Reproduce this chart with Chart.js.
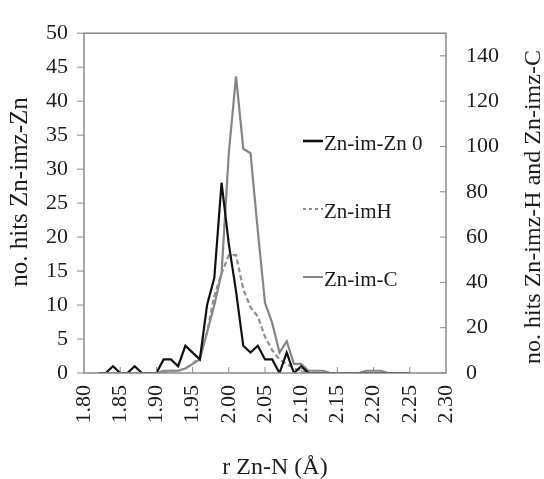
<!DOCTYPE html>
<html>
<head>
<meta charset="utf-8">
<script src="https://cdn.jsdelivr.net/npm/chart.js@4"></script>
<style>
  html, body { margin: 0; padding: 0; background: #fff; }
  #wrap { width: 544px; height: 479px; }
</style>
</head>
<body>
<div id="wrap"><canvas id="rdf" width="544" height="479"></canvas></div>
<script>
// r Zn-N bins (Å)
const rBins = [1.82, 1.83, 1.84, 1.85, 1.86, 1.87, 1.88, 1.89, 1.90, 1.91,
               1.92, 1.93, 1.94, 1.95, 1.96, 1.97, 1.98, 1.99, 2.00, 2.01,
               2.02, 2.03, 2.04, 2.05, 2.06, 2.07, 2.08, 2.09, 2.10, 2.11,
               2.12, 2.13, 2.14, 2.15, 2.16, 2.17, 2.18, 2.19, 2.20, 2.21,
               2.22, 2.23, 2.24, 2.25];
// hits, left axis
const znImZn = [0, 0, 1, 0, 0, 1, 0, 0, 0, 2,
                2, 1, 4, 3, 2, 10, 14, 28, 19, 12,
                4, 3, 4, 2, 2, 0, 3, 0, 1, 0,
                0, 0, 0, 0, 0, 0, 0, 0, 0, 0,
                0, 0, 0, 0];
// hits, right axis
const znImH = [0, 0, 0, 0, 0, 0, 0, 0, 0, 0,
               1, 1, 2, 4, 7, 18, 34, 44, 52, 52,
               37, 29, 25, 16, 10, 6, 4, 2, 1, 0,
               0, 0, 0, 0, 0, 0, 0, 0, 0, 0,
               0, 0, 0, 0];
const znImC = [0, 0, 0, 0, 0, 0, 0, 0, 0, 1,
               1, 1, 2, 4, 6, 18, 30, 44, 97, 131,
               99, 97, 63, 31, 22, 9, 14, 4, 4, 1,
               1, 1, 0, 0, 0, 0, 0, 1, 1, 1,
               0, 0, 0, 0];
const leftTicks = [0, 5, 10, 15, 20, 25, 30, 35, 40, 45, 50];
const rightTicks = [0, 20, 40, 60, 80, 100, 120, 140];
const xTicks = [1.80, 1.85, 1.90, 1.95, 2.00, 2.05, 2.10, 2.15, 2.20, 2.25, 2.30];

const serif = 'Liberation Serif, Times New Roman, serif';
const txt = '#1c1c1c';
const frameCol = '#8a8a8a';

function pts(vals){ return rBins.map((r,i)=>({ x: r, y: vals[i] })); }

// frame, inward/outward tick marks, legend and axis titles
const decor = {
    id: 'decor',
    afterDatasetsDraw(chart){
        const { ctx, chartArea: a, scales } = chart;
        ctx.save();
        ctx.strokeStyle = frameCol;
        ctx.lineWidth = 1.5;
        ctx.strokeRect(a.left, a.top, a.right - a.left, a.bottom - a.top);
        ctx.lineWidth = 1;
        ctx.beginPath();
        leftTicks.forEach(v=>{ const y = scales.y.getPixelForValue(v); ctx.moveTo(a.left - 7, y); ctx.lineTo(a.left, y); });
        rightTicks.forEach(v=>{ const y = scales.y1.getPixelForValue(v); ctx.moveTo(a.right - 6, y); ctx.lineTo(a.right, y); });
        xTicks.slice(1, -1).forEach(v=>{ const x = scales.x.getPixelForValue(v); ctx.moveTo(x, a.bottom); ctx.lineTo(x, a.bottom - 6); });
        ctx.stroke();
        ctx.restore();
    },
    afterDraw(chart){
        const { ctx } = chart;
        ctx.save();
        // legend
        const rows = [143, 211, 279];
        chart.data.datasets.forEach((ds,i)=>{
            const y = rows[i];
            ctx.strokeStyle = ds.borderColor;
            ctx.lineWidth = i === 0 ? 2.6 : 2;
            ctx.setLineDash(ds.borderDash ? [3, 3] : []);
            ctx.beginPath(); ctx.moveTo(303, y - 2); ctx.lineTo(323, y - 2); ctx.stroke();
            ctx.setLineDash([]);
            ctx.fillStyle = txt;
            ctx.font = '21px ' + serif;
            ctx.textAlign = 'left'; ctx.textBaseline = 'middle';
            ctx.fillText(ds.label, 324, y + 1);
        });
        // titles
        ctx.fillStyle = txt;
        ctx.font = '24px ' + serif;
        ctx.textBaseline = 'middle';
        ctx.textAlign = 'center';
        ctx.fillText('r Zn-N (Å)', 275, 468);
        ctx.save();
        ctx.translate(20, 192); ctx.rotate(-Math.PI/2);
        ctx.font = '25px ' + serif;
        ctx.fillText('no. hits Zn-imz-Zn', 0, 0);
        ctx.restore();
        ctx.save();
        ctx.translate(534, 364); ctx.rotate(-Math.PI/2);
        ctx.textAlign = 'left';
        ctx.fillText('no. hits Zn-imz-H and Zn-imz-C', 0, 0);
        ctx.restore();
        ctx.restore();
    }
};

const tickFont = { family: serif, size: 22 };

new Chart(document.getElementById('rdf'), {
    type: 'line',
    data: {
        datasets: [
            { label: 'Zn-im-Zn 0', data: pts(znImZn), yAxisID: 'y', borderColor: '#111111', borderWidth: 2.2, pointRadius: 0, tension: 0, fill: false },
            { label: 'Zn-imH', data: pts(znImH), yAxisID: 'y1', borderColor: '#8e8e8e', borderWidth: 2.2, borderDash: [5, 3], pointRadius: 0, tension: 0, fill: false },
            { label: 'Zn-im-C', data: pts(znImC), yAxisID: 'y1', borderColor: '#858585', borderWidth: 2.2, pointRadius: 0, tension: 0, fill: false }
        ]
    },
    options: {
        responsive: false,
        animation: false,
        devicePixelRatio: 1,
        layout: { padding: { top: 19, left: 0, right: 0, bottom: 0 } },
        plugins: { legend: { display: false }, tooltip: { enabled: false } },
        scales: {
            x: {
                type: 'linear', min: 1.8, max: 2.3,
                afterFit(s){ s.height = 106; },
                afterBuildTicks(s){ s.ticks = xTicks.map(v=>({ value: v })); },
                ticks: { color: txt, font: tickFont, minRotation: 90, maxRotation: 90, padding: 12, autoSkip: false, callback: v => v.toFixed(2) },
                grid: { display: false, drawTicks: false },
                border: { display: false }
            },
            y: {
                position: 'left', min: 0, max: 50,
                afterFit(s){ s.width = 84; },
                ticks: { color: txt, font: tickFont, stepSize: 5, padding: 16 },
                grid: { display: false, drawTicks: false },
                border: { display: false }
            },
            y1: {
                position: 'right', min: 0, max: 150,
                afterFit(s){ s.width = 98; },
                ticks: { color: txt, font: tickFont, stepSize: 20, includeBounds: false, padding: 20 },
                grid: { display: false, drawTicks: false },
                border: { display: false }
            }
        }
    },
    plugins: [decor]
});
</script>
</body>
</html>
